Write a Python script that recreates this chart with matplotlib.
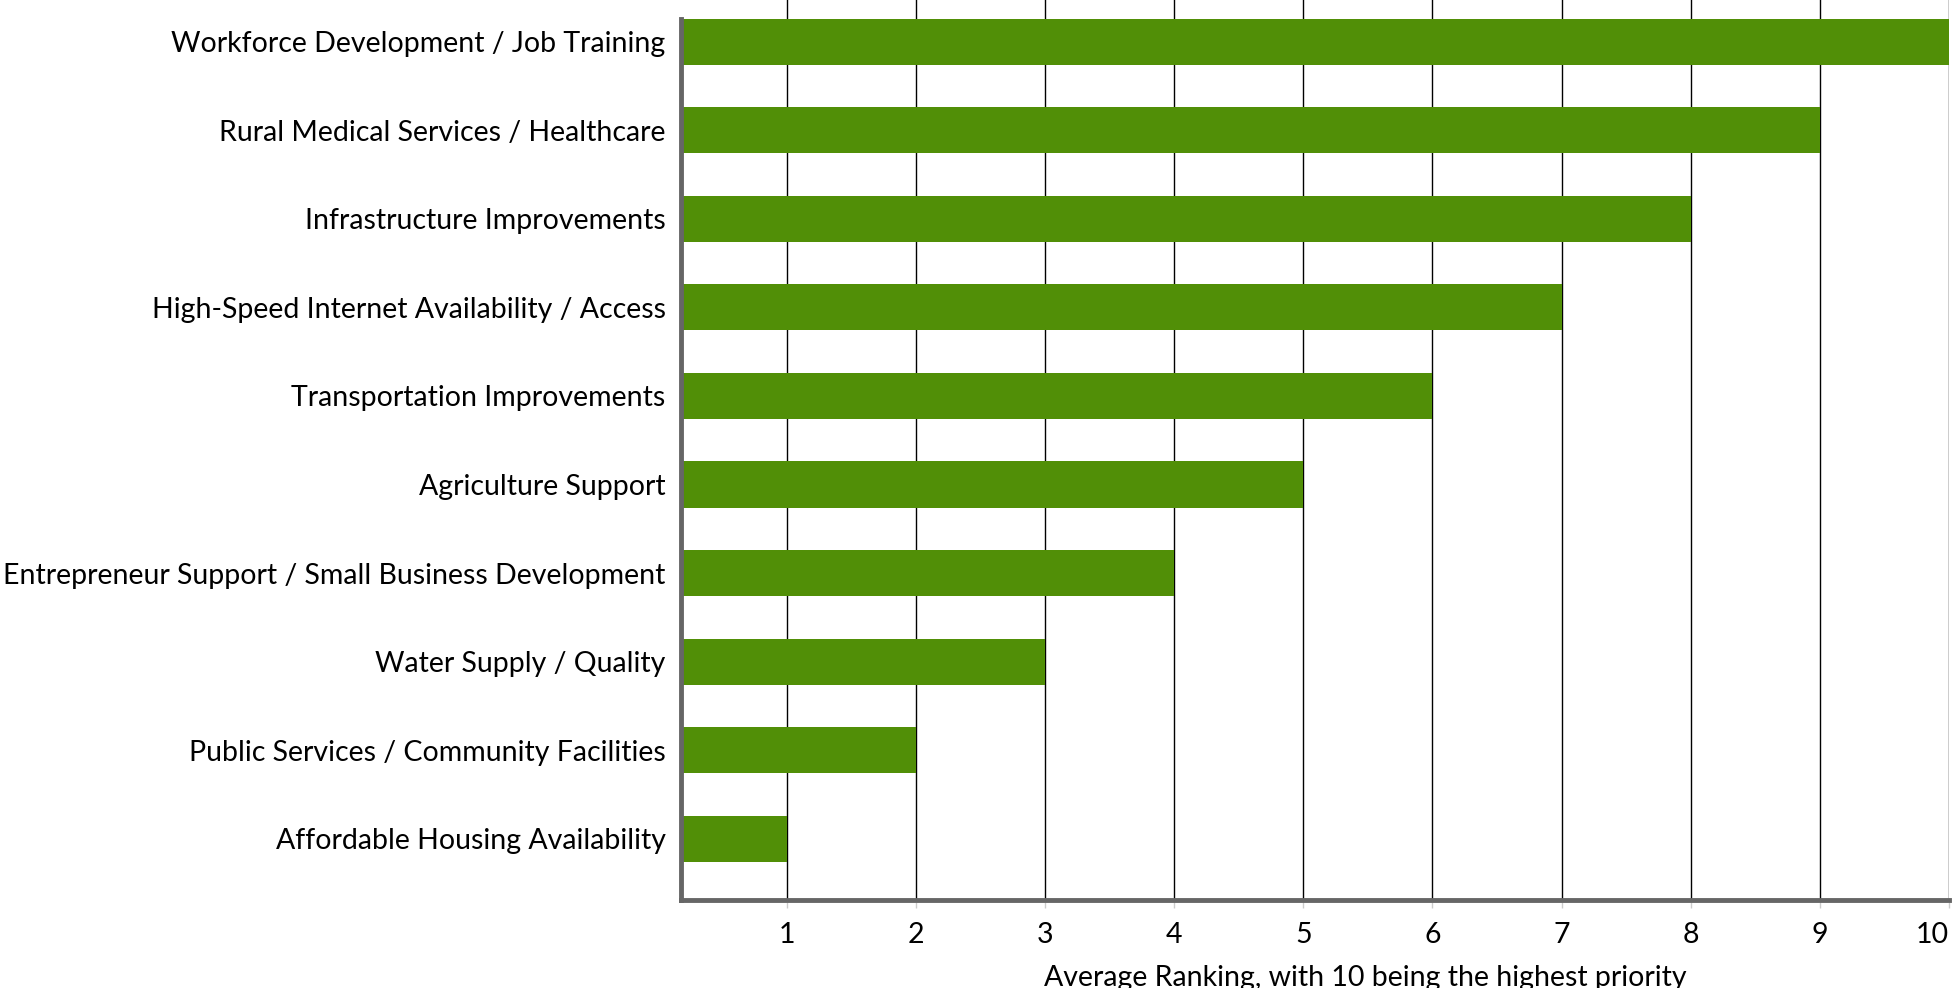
import matplotlib
matplotlib.use('Agg')
import matplotlib.pyplot as plt
import numpy as np

# priorities, top to bottom
categories = ['Workforce Development / Job Training',
              'Rural Medical Services / Healthcare',
              'Infrastructure Improvements',
              'High-Speed Internet Availability / Access',
              'Transportation Improvements',
              'Agriculture Support',
              'Entrepreneur Support / Small Business Development',
              'Water Supply / Quality',
              'Public Services / Community Facilities',
              'Affordable Housing Availability']
rankings = [10, 9, 8, 7, 6, 5, 4, 3, 2, 1]
ticks = [1, 2, 3, 4, 5, 6, 7, 8, 9, 10]

plt.rcParams['font.family'] = ['Lato', 'DejaVu Sans']

fig = plt.figure(figsize=(19.59, 9.88), dpi=100)
ax = fig.add_axes([0.3476, 0.0891, 0.6473, 0.9109])

y_pos = np.arange(len(categories))
ax.barh(y_pos, rankings, height=0.52, color='#518f07', zorder=2)

ax.set_xlim(0.18, 10.0)
ax.set_ylim(9.69, -0.47)
ax.set_yticks(y_pos)
ax.set_yticklabels(categories, fontsize=20.5)
ax.set_xticks(ticks)
ax.set_xticklabels([str(t) for t in ticks], fontsize=20.5)
ax.get_xticklabels()[-1].set_horizontalalignment('right')
ax.tick_params(axis='y', length=0, pad=11)
ax.tick_params(axis='x', length=6, width=1, color='#cccccc', pad=10)

ax.grid(axis='x', color='black', linewidth=1.0, zorder=1)
ax.set_axisbelow(True)

for s in ['top', 'right']:
    ax.spines[s].set_visible(False)
ax.spines['left'].set_color('#666666')
ax.spines['left'].set_linewidth(3.5)
ax.spines['left'].set_bounds(9.69, -0.26)
ax.spines['bottom'].set_color('#666666')
ax.spines['bottom'].set_linewidth(3.5)

ax.set_xlabel('Average Ranking, with 10 being the highest priority', fontsize=20.5)
ax.xaxis.set_label_coords(0.54, -0.072)

fig.savefig('out.png', dpi=100)
